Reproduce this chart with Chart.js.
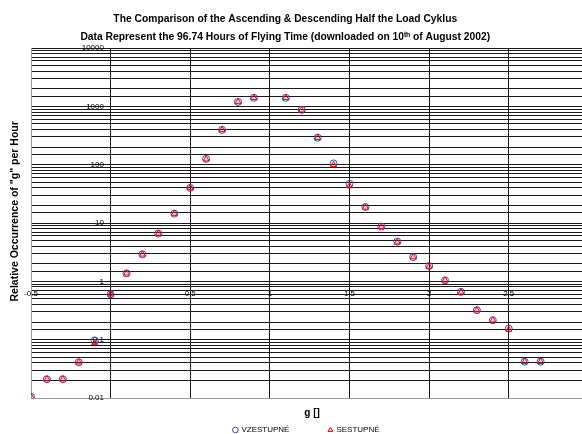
<!DOCTYPE html>
<html>
<head>
<meta charset="utf-8">
<script src="https://cdn.jsdelivr.net/npm/chart.js@4"></script>
<style>
body { margin: 0; background: #fff; }
#wrap { width: 582px; height: 434px; }
</style>
</head>
<body>
<div id="wrap"><canvas id="loadChart"></canvas></div>
<script>
var gValues = [-0.5, -0.4, -0.3, -0.2, -0.1, 0, 0.1, 0.2, 0.3, 0.4, 0.5, 0.6, 0.7, 0.8, 0.9,
    1.1, 1.2, 1.3, 1.4, 1.5, 1.6, 1.7, 1.8, 1.9, 2.0, 2.1, 2.2, 2.3, 2.4, 2.5, 2.6, 2.7];
var ascending = [0.0105, 0.021, 0.021, 0.041, 0.097, 0.6, 1.37, 2.9, 6.6, 14.5, 40, 126, 395, 1190, 1400,
    1400, 870, 290, 105, 47, 18.8, 8.7, 4.8, 2.6, 1.83, 1.04, 0.66, 0.32, 0.215, 0.155, 0.042, 0.042];
var descending = [0.0105, 0.021, 0.021, 0.041, 0.088, 0.6, 1.37, 2.9, 6.6, 14.5, 40, 124, 395, 1190, 1400,
    1400, 860, 290, 100, 43, 18.5, 8.6, 4.7, 2.6, 1.8, 1.04, 0.65, 0.32, 0.215, 0.15, 0.042, 0.042];
var seriesNames = ['VZESTUPNÉ', 'SESTUPNÉ'];
var xTickLabels = ['-0.5', '0', '0.5', '1', '1.5', '2', '2.5'];
var yTickLabels = ['0.01', '0.1', '1', '10', '100', '1000', '10000'];
var chartTitle = [
    'The Comparison of the Ascending & Descending Half the Load Cyklus    ',
    'Data Represent the 96.74 Hours of Flying Time (downloaded on 10\u1D57\u02B0 of August 2002)    '
];
var xTitle = '    g []';
var yTitle = '        Relative Occurrence of "g" per Hour';

function toPoints(values) {
    return gValues.map(function (g, i) {
        return { x: g, y: values[i] };
    });
}

Chart.defaults.font.family = "'Liberation Sans', Arial, sans-serif";
Chart.defaults.color = '#000';

var ctx = document.getElementById('loadChart').getContext('2d');
var chart = new Chart(ctx, {
    type: 'scatter',
    data: {
        datasets: [{
            label: seriesNames[0],
            data: toPoints(ascending),
            pointStyle: 'circle',
            pointRadius: 3.5,
            borderColor: '#4040c0',
            backgroundColor: 'rgba(0,0,0,0)',
            borderWidth: 1,
            order: 2
        }, {
            label: seriesNames[1],
            data: toPoints(descending),
            pointStyle: 'triangle',
            pointRadius: 3.5,
            borderColor: '#ff0000',
            backgroundColor: 'rgba(255,0,0,0.15)',
            borderWidth: 1,
            order: 1
        }]
    },
    options: {
        animation: false,
        responsive: true,
        maintainAspectRatio: false,
        layout: { autoPadding: false, padding: { left: 0, right: 0, top: 0, bottom: -10 } },
        plugins: {
            title: {
                display: true,
                text: chartTitle,
                font: { size: 10.3, weight: 'bold', lineHeight: 1.7 },
                padding: { top: 10.5, bottom: 2.5 }
            },
            legend: {
                position: 'bottom',
                fullSize: false,
                labels: {
                    usePointStyle: true,
                    boxWidth: 4,
                    boxHeight: 4,
                    padding: 7,
                    font: { size: 8 },
                    sort: function (a, b) { return a.datasetIndex - b.datasetIndex; },
                    generateLabels: function (c) {
                        var items = Chart.defaults.plugins.legend.labels.generateLabels(c);
                        items.forEach(function (it) {
                            if (it.datasetIndex === 0) it.text = it.text + '\u2003\u2003\u2003\u2003';
                        });
                        return items;
                    }
                }
            },
            tooltip: { enabled: false }
        },
        scales: {
            x: {
                type: 'linear', position: 'bottom', min: -0.5, max: 2.96,
                ticks: { display: false, stepSize: 0.5 },
                grid: { color: '#1a1a1a', drawTicks: false },
                border: { color: '#999' },
                title: { display: true, text: xTitle, font: { size: 10, weight: 'bold' }, padding: { top: 9, bottom: 0 } }
            },
            y: {
                type: 'logarithmic', position: 'left', min: 0.01, max: 10000,
                ticks: { display: false },
                grid: { color: '#1a1a1a', drawTicks: false },
                border: { color: '#999' },
                title: { display: true, text: yTitle, font: { size: 10.5, weight: 'bold' }, padding: { top: 9, bottom: 9.4 } }
            },
            xl: {
                type: 'linear', position: { y: 1 }, min: -0.5, max: 2.96,
                ticks: {
                    stepSize: 0.5, padding: 8, font: { size: 8 }, autoSkip: false, maxRotation: 0,
                    callback: function (v) {
                        var k = (v + 0.5) * 2;
                        return Math.abs(k - Math.round(k)) < 1e-6 ? xTickLabels[Math.round(k)] : '';
                    }
                },
                grid: { display: false, drawTicks: false },
                border: { display: false },
                afterFit: function (s) { s.height = 0; s.paddingLeft = 0; s.paddingRight = 0; }
            },
            yl: {
                type: 'logarithmic', position: { x: 0 }, min: 0.01, max: 10000,
                ticks: {
                    autoSkip: false, font: { size: 8 },
                    callback: function (v) {
                        var k = Math.log10(v) + 2;
                        return Math.abs(k - Math.round(k)) < 1e-6 ? yTickLabels[Math.round(k)] + '   ' : '';
                    }
                },
                grid: { display: false, drawTicks: false },
                border: { display: false },
                afterFit: function (s) { s.width = 0; s.paddingTop = 0; s.paddingBottom = 0; }
            }
        }
    }
});
</script>
</body>
</html>
